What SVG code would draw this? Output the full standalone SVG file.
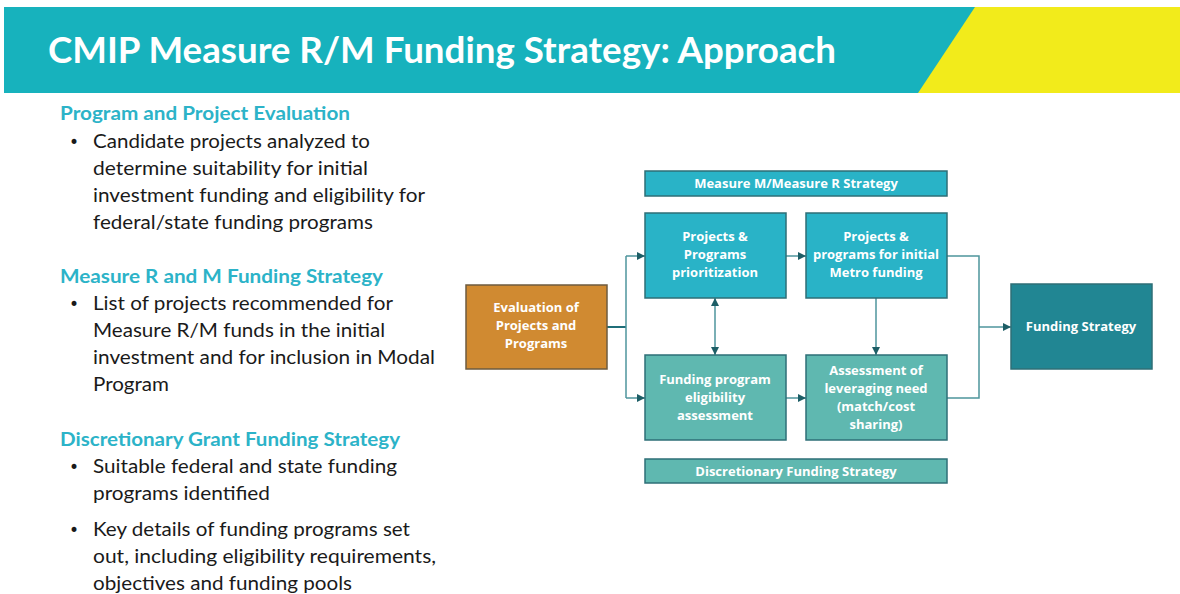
<svg xmlns="http://www.w3.org/2000/svg" width="1180" height="594" viewBox="0 0 1180 594">
<style>
.ttl{font-family:Lato,"Open Sans",sans-serif;font-weight:700;font-size:36px;fill:#fff}
.hd{font-family:Lato,"Open Sans",sans-serif;font-weight:700;font-size:19.5px;fill:#2CB3C8}
.bd{font-family:Lato,"Open Sans",sans-serif;font-size:19.5px;fill:#1a1a1a}
.bl{font-family:"DejaVu Sans",sans-serif;font-size:17px;fill:#1a1a1a}
.bx{stroke:#2E6F77;stroke-width:1.5}
.c1{fill:#29B3C7}
.c2{fill:#5FB8B0}
.c3{fill:#218693}
.c4{fill:#D08A31;stroke:#6E5B3F}
.lb{font-family:"Open Sans",Lato,sans-serif;font-weight:700;font-size:13px;fill:#fff;text-anchor:middle}
.cn{fill:none;stroke:#4E959C;stroke-width:1.5}
</style>
<defs>
<marker id="ah" viewBox="0 0 10 10" refX="10" refY="5" markerWidth="8" markerHeight="8" markerUnits="userSpaceOnUse" orient="auto-start-reverse">
<path d="M0,0 L10,5 L0,10 z" fill="#1D5E66"/>
</marker>
</defs>
<rect width="1180" height="594" fill="#fff"/>
<g id="header">
<rect x="4" y="7" width="1176" height="86" fill="#17B2BD"/>
<polygon points="975,7 1180,7 1180,93 918,93" fill="#F2EB1B"/>
<text class="ttl" x="48" y="63" textLength="788" lengthAdjust="spacingAndGlyphs">CMIP Measure R/M Funding Strategy: Approach</text>
</g>
<g id="left-text">
<text class="hd" x="60" y="120" textLength="290" lengthAdjust="spacingAndGlyphs">Program and Project Evaluation</text>
<text class="bl" x="69" y="148">•</text>
<text class="bd" x="93" y="148" textLength="277" lengthAdjust="spacingAndGlyphs">Candidate projects analyzed to</text>
<text class="bd" x="93" y="175" textLength="275" lengthAdjust="spacingAndGlyphs">determine suitability for initial</text>
<text class="bd" x="93" y="202" textLength="332" lengthAdjust="spacingAndGlyphs">investment funding and eligibility for</text>
<text class="bd" x="93" y="229" textLength="280" lengthAdjust="spacingAndGlyphs">federal/state funding programs</text>
<text class="hd" x="60" y="283" textLength="323" lengthAdjust="spacingAndGlyphs">Measure R and M Funding Strategy</text>
<text class="bl" x="69" y="310">•</text>
<text class="bd" x="93" y="310" textLength="300" lengthAdjust="spacingAndGlyphs">List of projects recommended for</text>
<text class="bd" x="93" y="337" textLength="292" lengthAdjust="spacingAndGlyphs">Measure R/M funds in the initial</text>
<text class="bd" x="93" y="364" textLength="342" lengthAdjust="spacingAndGlyphs">investment and for inclusion in Modal</text>
<text class="bd" x="93" y="391" textLength="76" lengthAdjust="spacingAndGlyphs">Program</text>
<text class="hd" x="60" y="446" textLength="340" lengthAdjust="spacingAndGlyphs">Discretionary Grant Funding Strategy</text>
<text class="bl" x="69" y="473">•</text>
<text class="bd" x="93" y="473" textLength="304" lengthAdjust="spacingAndGlyphs">Suitable federal and state funding</text>
<text class="bd" x="93" y="500" textLength="177" lengthAdjust="spacingAndGlyphs">programs identified</text>
<text class="bl" x="69" y="536">•</text>
<text class="bd" x="93" y="536" textLength="317" lengthAdjust="spacingAndGlyphs">Key details of funding programs set</text>
<text class="bd" x="93" y="563" textLength="343" lengthAdjust="spacingAndGlyphs">out, including eligibility requirements,</text>
<text class="bd" x="93" y="590" textLength="259" lengthAdjust="spacingAndGlyphs">objectives and funding pools</text>
</g>
<g id="connectors">
<path d="M607,327 H626" fill="none" stroke="#1F6E78" stroke-width="2"/>
<path class="cn" d="M626,256 V398"/>
<path class="cn" d="M626,256 H645" marker-end="url(#ah)"/>
<path class="cn" d="M626,398 H645" marker-end="url(#ah)"/>
<path class="cn" d="M786,256 H806" marker-end="url(#ah)"/>
<path class="cn" d="M715,298 V355" marker-start="url(#ah)" marker-end="url(#ah)"/>
<path class="cn" d="M876,298 V355" marker-end="url(#ah)"/>
<path class="cn" d="M786,398 H806" marker-end="url(#ah)"/>
<path class="cn" d="M947,256 H979 V398 H947"/>
<path class="cn" d="M979,327 H1011" marker-end="url(#ah)"/>
</g>
<g id="measure-strategy">
<rect class="bx c1" x="645" y="171" width="302" height="25"/>
<text class="lb" x="796" y="188">Measure M/Measure R Strategy</text>
</g>
<g id="prioritization">
<rect class="bx c1" x="645" y="213" width="141" height="85"/>
<text class="lb" x="715" y="241">Projects &amp;</text>
<text class="lb" x="715" y="259">Programs</text>
<text class="lb" x="715" y="277">prioritization</text>
</g>
<g id="initial-metro">
<rect class="bx c1" x="806" y="213" width="141" height="85"/>
<text class="lb" x="876" y="241">Projects &amp;</text>
<text class="lb" x="876" y="259">programs for initial</text>
<text class="lb" x="876" y="277">Metro funding</text>
</g>
<g id="evaluation">
<rect class="bx c4" x="466" y="285" width="141" height="84"/>
<text class="lb" x="536" y="312">Evaluation of</text>
<text class="lb" x="536" y="330">Projects and</text>
<text class="lb" x="536" y="348">Programs</text>
</g>
<g id="eligibility">
<rect class="bx c2" x="645" y="355" width="141" height="85"/>
<text class="lb" x="715" y="384">Funding program</text>
<text class="lb" x="715" y="402">eligibility</text>
<text class="lb" x="715" y="420">assessment</text>
</g>
<g id="leveraging">
<rect class="bx c2" x="806" y="355" width="141" height="85"/>
<text class="lb" x="876" y="375">Assessment of</text>
<text class="lb" x="876" y="393">leveraging need</text>
<text class="lb" x="876" y="411">(match/cost</text>
<text class="lb" x="876" y="429">sharing)</text>
</g>
<g id="discretionary">
<rect class="bx c2" x="645" y="459" width="302" height="24"/>
<text class="lb" x="796" y="475.5">Discretionary Funding Strategy</text>
</g>
<g id="funding-strategy">
<rect class="bx c3" x="1011" y="284" width="141" height="85"/>
<text class="lb" x="1081" y="331">Funding Strategy</text>
</g>
</svg>
